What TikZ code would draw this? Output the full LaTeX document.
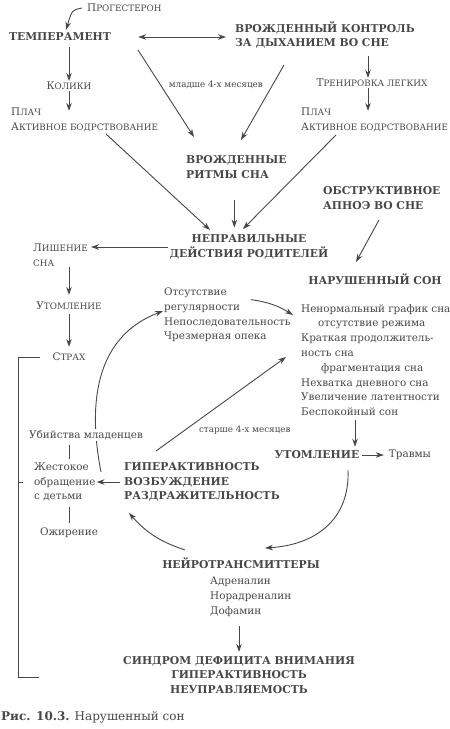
\documentclass[tikz,border=0pt]{standalone}
\usepackage{fontspec}
\setmainfont{DejaVu Serif}
\usetikzlibrary{arrows.meta, positioning}
\definecolor{ink}{HTML}{474747}
\newcommand\fsc[2]{#1{\fontsize{8.8}{10}\selectfont #2}}

\begin{document}
\begin{tikzpicture}[
			x=1pt, y=-1pt,
			every node/.style={text=ink, inner sep=1pt, font=\fontsize{10.4}{14.8}\selectfont},
			head/.style={font=\bfseries\fontsize{10.8}{14.8}\selectfont},
			txt/.style={align=left, anchor=west},
			small/.style={font=\fontsize{8.8}{10}\selectfont},
			arrow/.style={draw=ink, line width=0.9pt, -{Stealth[length=8pt,width=5.5pt]}},
			twoway/.style={draw=ink, line width=0.9pt, {Stealth[length=8pt,width=5.5pt]}-{Stealth[length=8pt,width=5.5pt]}},
			plain/.style={draw=ink, line width=0.8pt}
			]
			\useasboundingbox (0,0) rectangle (450,729);
			
			% Upper part
			\node (prog) [txt] at (86,8) {\fsc{П}{РОГЕСТЕРОН}};
			\node (temp) [head] at (60,37) {ТЕМПЕРАМЕНТ};
			\node (control) [head, txt] at (234,35) {ВРОЖДЕННЫЙ КОНТРОЛЬ\\ЗА ДЫХАНИЕМ ВО СНЕ};
			\node (kolik) at (69,86) {\fsc{К}{ОЛИКИ}};
			\node (plachL) [txt] at (10,120) {\fsc{П}{ЛАЧ}\\\fsc{А}{КТИВНОЕ БОДРСТВОВАНИЕ}};
			\node (trening) at (372,83) {\fsc{Т}{РЕНИРОВКА ЛЕГКИХ}};
			\node (plachR) [txt] at (300,120) {\fsc{П}{ЛАЧ}\\\fsc{А}{КТИВНОЕ БОДРСТВОВАНИЕ}};
			\node (ritm) [head, txt] at (185,167) {ВРОЖДЕННЫЕ\\РИТМЫ СНА};
			\node (neprav) [head, align=center] at (249,247) {НЕПРАВИЛЬНЫЕ\\ДЕЙСТВИЯ РОДИТЕЛЕЙ};
			\node (apnoe) [head, txt] at (322,198) {ОБСТРУКТИВНОЕ\\АПНОЭ ВО СНЕ};
			\node (narush) [head] at (375,279) {НАРУШЕННЫЙ СОН};
			
			% Left column
			\node (lishenie) [txt] at (32,255) {\fsc{Л}{ИШЕНИЕ}\\{\fontsize{8.8}{10}\selectfont СНА}};
			\node (utom1) at (69,306) {\fsc{У}{ТОМЛЕНИЕ}};
			\node (strah) at (69,357) {\fsc{С}{ТРАХ}};
			\node (zhest) [txt] at (33,482) {Жестокое\\обращение\\с детьми};
			\node (ozhir) at (69,533) {Ожирение};
			
			% Middle
			\node (otsut) [txt] at (163,315) {Отсутствие\\регулярности\\Непоследовательность\\Чрезмерная опека};
			\node (nenorm) [txt] at (300,360) {Ненормальный график сна\\\hspace*{17pt}отсутствие режима\\Краткая продолжитель-\\ность сна\\\hspace*{20pt}фрагментация сна\\Нехватка дневного сна\\Увеличение латентности\\Беспокойный сон};
			\node (utom2) [head] at (317,455) {УТОМЛЕНИЕ};
			\node (travm) at (410,455) {Травмы};
			\node (giper) [head, txt] at (123,482) {ГИПЕРАКТИВНОСТЬ\\ВОЗБУЖДЕНИЕ\\РАЗДРАЖИТЕЛЬНОСТЬ};
			
			% Curve behind the text line
			\draw [arrow] ([xshift=-22pt, yshift=10pt]giper.west) .. controls (86,395) and (100,335) .. ([yshift=4pt]otsut.west);
			\node (ubiy) [txt, fill=white] at (28,435) {Убийства младенцев};
			
			% Lower part
			\node (neuro) [head] at (241,563) {НЕЙРОТРАНСМИТТЕРЫ};
			\node (adren) [txt] at (209,597) {Адреналин\\Норадреналин\\Дофамин};
			\node (sdvg) [head, align=center] at (239,675) {СИНДРОМ ДЕФИЦИТА ВНИМАНИЯ\\ГИПЕРАКТИВНОСТЬ\\НЕУПРАВЛЯЕМОСТЬ};
			\node (caption) [txt, font=\fontsize{12}{14}\selectfont] at (0,717) {\textbf{Рис. 10.3.} Нарушенный сон};
			
			% Arrows
			\draw [arrow] ([xshift=-4pt]prog.west) .. controls (72,10) .. ([xshift=6pt, yshift=2pt]temp.north);
			\draw [twoway, shorten <=26pt, shorten >=8pt] (temp.east) -- (control.west |- temp.east);
			\draw [arrow, shorten <=5pt] (kolik |- temp.south) -- (kolik);
			\draw [arrow, shorten >=-4pt] (kolik) -- (kolik |- plachL.north);
			\draw [arrow] ([xshift=78pt, yshift=-13pt]temp.center) -- node[pos=0.4, right=7pt, small] {младше 4-х месяцев} ([xshift=9pt, yshift=30pt]ritm.west);
			\draw [arrow] ([xshift=50pt, yshift=-30pt]control.west) -- ([xshift=56pt, yshift=27pt]ritm.west);
			\draw [arrow, shorten <=6pt] ([xshift=-4pt]trening.north |- control.south) -- ([xshift=-4pt]trening.north);
			\draw [arrow, shorten >=-4pt] ([xshift=-4pt]trening.south) -- ([xshift=-4pt]trening.south |- plachR.north);
			\draw [arrow] ([xshift=96pt, yshift=-14pt]plachL.west) -- ([xshift=-39pt, yshift=17pt]neprav.center);
			\draw [arrow] ([xshift=36pt, yshift=-15pt]plachR.west) -- ([xshift=-6pt, yshift=18pt]neprav.center);
			\draw [arrow, shorten <=20pt, shorten >=6pt] ([xshift=-2pt]ritm.south) -- ([xshift=-2pt]ritm.south |- neprav.north);
			\draw [arrow, shorten >=2pt] (neprav.west) -- (neprav.west -| lishenie.east);
			\draw [arrow] ([xshift=57pt, yshift=-22pt]apnoe.west) -- ([xshift=-19pt, yshift=17pt]narush.center);
			\draw [arrow, shorten >=6pt] (lishenie.south -| utom1) -- (utom1);
			\draw [arrow, shorten <=3pt, shorten >=5pt] (utom1) -- (strah);
			\draw [arrow] ([xshift=88pt, yshift=-13pt]otsut.north west) to[bend left=12] ([xshift=-7pt, yshift=45pt]nenorm.west);
			\draw [arrow] ([xshift=33pt, yshift=31pt]giper.west) -- node[pos=0.32, anchor=north west, yshift=-4pt, small] {старше 4-х месяцев} ([xshift=-14pt, yshift=3pt]nenorm.west);
			\draw [arrow, shorten <=3pt, shorten >=3pt] ([xshift=38pt]utom2.north |- nenorm.south) -- ([xshift=38pt]utom2.north);
			\draw [arrow, shorten <=2pt, shorten >=4pt] (utom2) -- (travm);
			\draw [arrow] ([xshift=31pt, yshift=-15pt]utom2.center) .. controls (350,520) and (315,545) .. ([xshift=24pt, yshift=15pt]neuro.center);
			\draw [arrow] ([xshift=-56pt, yshift=13pt]neuro.center) to[bend left=15] ([xshift=6pt, yshift=-31pt]giper.west);
			\draw [arrow, shorten <=3pt] (giper.west) -- (zhest.east |- giper.west);
			\draw [arrow, shorten <=8pt, shorten >=3pt] (adren.south -| sdvg.north) -- (sdvg.north);
			
			% Bracket and separators
			\coordinate (brk) at (18,677);
			\draw [plain] ([xshift=-11pt]strah.west) -| (brk) -- ++(21,0);
			\draw [plain] (brk |- zhest.west) -- ++(5,0);
			\draw [plain] ([yshift=-4pt]ubiy.south -| ozhir) -- ([yshift=2pt]zhest.north -| ozhir);
			\draw [plain] ([yshift=-4pt]zhest.south -| ozhir) -- ([yshift=4pt]ozhir.north);
			
		\end{tikzpicture}
\end{document}
